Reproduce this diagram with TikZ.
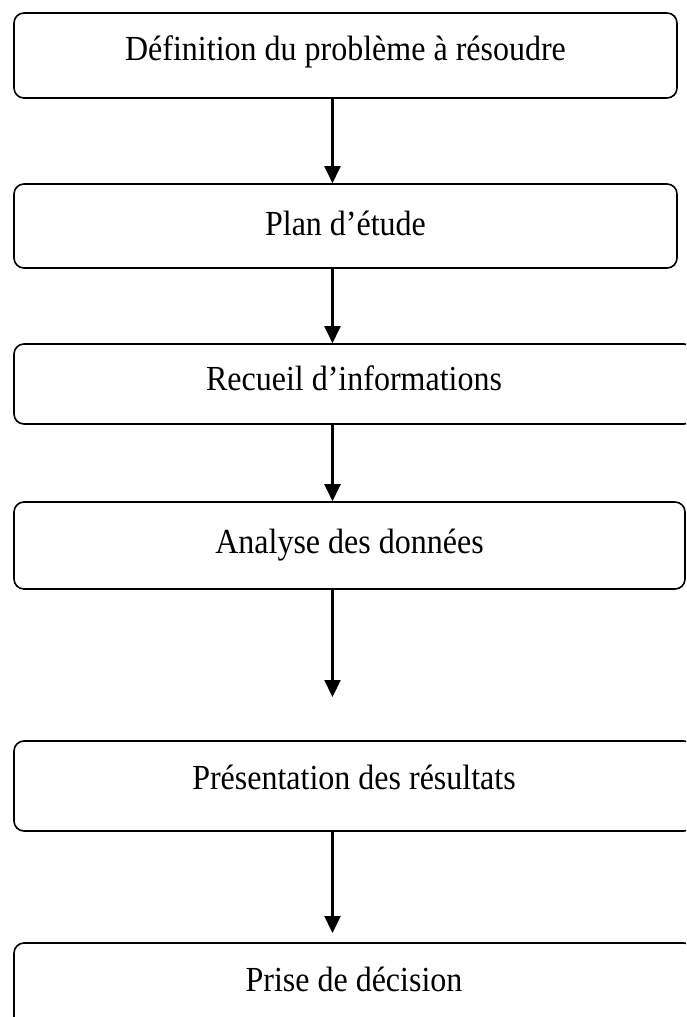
\documentclass[tikz,border=0pt]{standalone}
\usepackage{fontspec}
\setmainfont{Liberation Serif}
\usetikzlibrary{arrows.meta}
\begin{document}
\begin{tikzpicture}[x=1pt,y=1pt,
  stepbox/.style={draw=black, line width=1.6pt, rounded corners=10pt, inner sep=0pt},
  steptext/.style={anchor=base, inner sep=0pt, font=\fontsize{32}{38}\selectfont},
  flow/.style={line width=2.2pt, -{Triangle[length=17pt,width=16pt]}}]
\useasboundingbox (0,0) rectangle (686,-1017);
\clip (0,0) rectangle (686,-1017);
\fill[white] (0,0) rectangle (686,-1017);
% boxes
\node[stepbox, minimum width=663pt, minimum height=85pt] (b1) at (345.5,-55.5) {};
\node[stepbox, minimum width=663pt, minimum height=84pt] (b2) at (345.5,-226) {};
\node[stepbox, minimum width=680pt, minimum height=80pt] (b3) at (354,-384) {};
\node[stepbox, minimum width=671pt, minimum height=87pt] (b4) at (349.5,-545.5) {};
\node[stepbox, minimum width=680pt, minimum height=90pt] (b5) at (354,-786) {};
\node[stepbox, minimum width=680pt, minimum height=88pt] (b6) at (354,-987) {};
% texts
\node[steptext] (t1) at ([yshift=-48pt]b1.north) {\scalebox{1}[1.1]{Définition du problème à résoudre}};
\node[steptext] (t2) at ([yshift=-52pt]b2.north) {\scalebox{1}[1.1]{Plan d’étude}};
\node[steptext] (t3) at ([yshift=-47pt]b3.north) {\scalebox{1}[1.1]{Recueil d’informations}};
\node[steptext] (t4) at ([yshift=-52pt]b4.north) {\scalebox{1}[1.1]{Analyse des données}};
\node[steptext] (t5) at ([yshift=-49pt]b5.north) {\scalebox{1}[1.1]{Présentation des résultats}};
\node[steptext] (t6) at ([yshift=-49pt]b6.north) {\scalebox{1}[1.1]{Prise de décision}};
% arrows
\coordinate (ax) at (332.5,0);
\coordinate (e4) at (332.5,-697);
\coordinate (e5) at (332.5,-933);
\draw[flow] (b1.south -| ax) -- (b2.north -| ax);
\draw[flow] (b2.south -| ax) -- (b3.north -| ax);
\draw[flow] (b3.south -| ax) -- (b4.north -| ax);
\draw[flow] (b4.south -| ax) -- (e4);
\draw[flow] (b5.south -| ax) -- (e5);
\end{tikzpicture}
\end{document}
